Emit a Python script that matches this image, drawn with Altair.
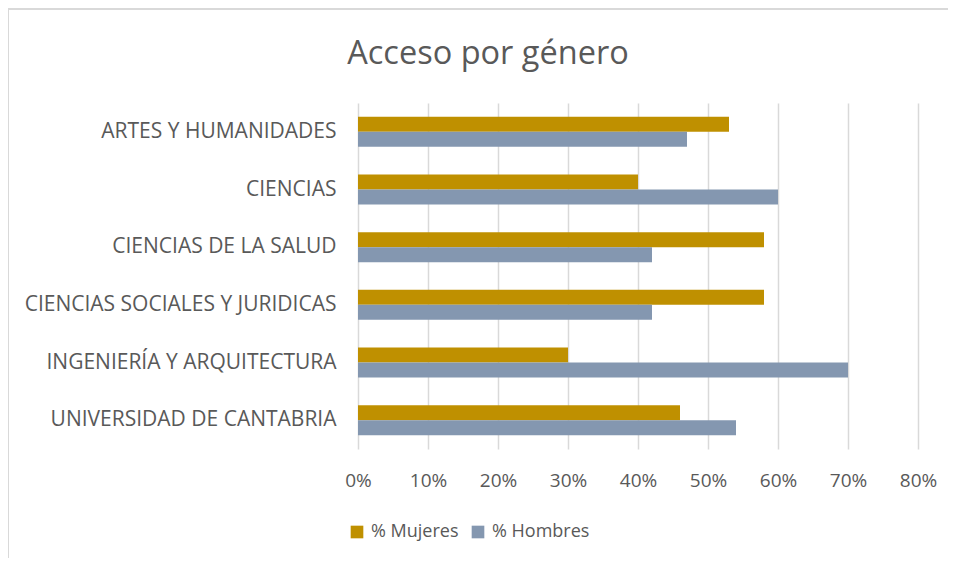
import altair as alt
import pandas as pd

categories = [
    "ARTES Y HUMANIDADES",
    "CIENCIAS",
    "CIENCIAS DE LA SALUD",
    "CIENCIAS SOCIALES Y JURIDICAS",
    "INGENIERÍA Y ARQUITECTURA",
    "UNIVERSIDAD DE CANTABRIA",
]
mujeres = [0.53, 0.40, 0.58, 0.58, 0.30, 0.46]
hombres = [0.47, 0.60, 0.42, 0.42, 0.70, 0.54]
series = ["% Mujeres", "% Hombres"]
colors = ["#BF9000", "#8497B0"]

rows = []
for c, m, h in zip(categories, mujeres, hombres):
    rows.append({"cat": c, "serie": series[0], "val": m})
    rows.append({"cat": c, "serie": series[1], "val": h})
df = pd.DataFrame(rows)

FONT = "Open Sans"
GREY = "#595959"

bars = alt.Chart(df).mark_bar(size=15).encode(
    y=alt.Y("cat:N", sort=categories, title=None,
            scale=alt.Scale(paddingInner=0.48, paddingOuter=0.24),
            axis=alt.Axis(labelFontSize=21, labelColor=GREY, labelFont=FONT,
                          labelPadding=22, ticks=False, domain=False, grid=False,
                          labelLimit=400)),
    yOffset=alt.YOffset("serie:N", sort=series, scale=alt.Scale(paddingInner=0, paddingOuter=0)),
    x=alt.X("val:Q", title=None,
            scale=alt.Scale(domain=[0, 0.8], nice=False),
            axis=alt.Axis(format=".0%", values=[0, 0.1, 0.2, 0.3, 0.4, 0.5, 0.6, 0.7, 0.8],
                          labelFontSize=19, labelColor=GREY, labelFont=FONT,
                          labelFlush=False, labelPadding=22, ticks=False, domain=False,
                          grid=True, gridColor="#D9D9D9", gridWidth=1.5)),
    color=alt.Color("serie:N", sort=series, title=None,
                    scale=alt.Scale(domain=series, range=colors),
                    legend=alt.Legend(orient="none", direction="horizontal",
                                      legendX=-10, legendY=420,
                                      symbolType="square", symbolSize=160,
                                      symbolStrokeWidth=0,
                                      labelFontSize=18, labelColor=GREY, labelFont=FONT,
                                      columnPadding=10, labelOffset=5)),
)

frame = alt.Chart(alt.Data(values=[{}])).mark_rect(
    fill=None, stroke="#D9D9D9", strokeWidth=2, clip=False
).encode(
    x=alt.value(-350), x2=alt.value(700),
    y=alt.value(-94), y2=alt.value(700),
)

chart = alt.layer(frame, bars).properties(
    width=560, height=346,
    background="white",
    title=alt.Title("Acceso por género", fontSize=32.5, font=FONT, fontWeight="normal",
                    color=GREY, anchor="middle", dx=-150, offset=0, dy=62),
    autosize=alt.AutoSizeParams(type="none"),
    padding={"left": 350, "top": 95, "right": 30, "bottom": 109},
).configure_view(stroke=None)

chart.save("out.html", embed_options={"renderer": "svg", "actions": False})
